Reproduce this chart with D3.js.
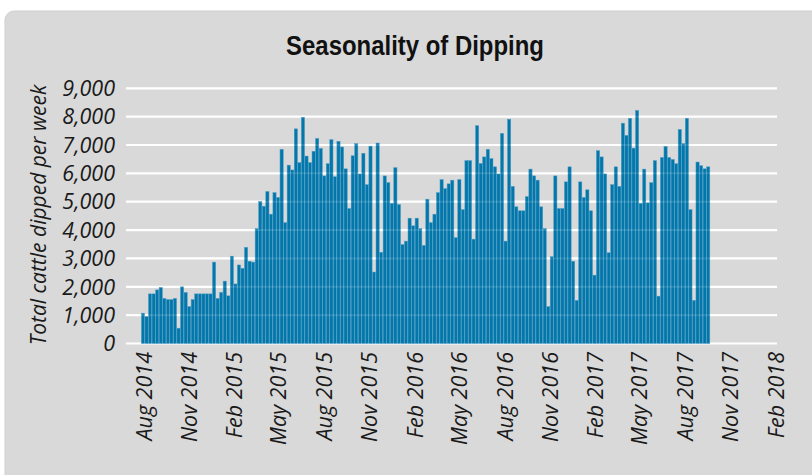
<!DOCTYPE html>
<html>
<head>
<meta charset="utf-8">
<script src="https://cdn.jsdelivr.net/npm/d3@7"></script>
<style>
  html, body { margin: 0; padding: 0; background: #ffffff; }
  svg { display: block; }
</style>
</head>
<body>
<svg id="chart" width="812" height="475"></svg>
<script>
// ---- data ----
const titleText = "Seasonality of Dipping";
const yLabel = "Total cattle dipped per week";
// weekly totals, one per recorded week (Aug 2014 - Sep 2017)
const cattleDipped = [
  1070, 950, 1750, 1750, 1890, 1980, 1590, 1550, 1550, 1590,
  540, 2000, 1800, 1300, 1550, 1750, 1750, 1750, 1750, 1750,
  2870, 1590, 1800, 2200, 1680, 3080, 2100, 2770, 2650,
  3390, 2900, 2870, 4050, 5010, 4840, 5360, 4560, 5320, 5150,
  6850, 4260, 6290, 6120, 7570, 6380, 7980, 6610, 6380, 6780,
  7230, 6880, 5910, 6340, 7190, 5880, 7130, 6930, 6160, 4760,
  6620, 7050, 5980, 6710, 5600, 6960, 2520, 7070, 3215, 5910,
  5670, 4940, 6200, 4900, 3490, 3610, 4420, 4150, 4420, 4050,
  3460, 5090, 4260, 4560, 5320, 5780, 5460, 5630, 5760,
  3730, 5780, 4720, 6450, 6450, 3680, 7680, 6350, 6580, 6850,
  6520, 6230, 5980, 7410, 3610, 7910, 5540, 4820, 4680, 4680,
  5180, 6150, 5910, 5760, 4820, 4050, 1300, 3060, 5910, 4760,
  4760, 5700, 6230, 2900, 1520, 5700, 5150, 5420, 4680,
  2410, 6800, 6580, 5980, 3200, 5600, 6230, 5540, 7770,
  7340, 7940, 6890, 8220, 4940, 6150, 4960, 5670, 6450, 1670,
  6560, 6950, 6560, 6490, 6340, 7550, 7050, 7940, 4720, 1520,
  6400, 6270, 6160, 6230
];
const weekNumbers = cattleDipped.map((_, i) => i + 1);
const xTickDates = [
  "2014-08-01", "2014-11-01", "2015-02-01", "2015-05-01", "2015-08-01",
  "2015-11-01", "2016-02-01", "2016-05-01", "2016-08-01", "2016-11-01",
  "2017-02-01", "2017-05-01", "2017-08-01", "2017-11-01", "2018-02-01"
];
const yTickValues = [0, 1000, 2000, 3000, 4000, 5000, 6000, 7000, 8000, 9000];
const xDomain = ["2014-06-26", "2018-02-03"];
const yDomain = [0, 9000];

// ---- drawing ----
const parse = d3.utcParse("%Y-%m-%d");
const svg = d3.select("#chart");
const x = d3.scaleUtc().domain(xDomain.map(parse)).range([126, 777]);
const xb = d3.scaleBand().domain(weekNumbers).range([141.2, 710]).paddingInner(0.1).paddingOuter(0.05);
const y = d3.scaleLinear().domain(yDomain).range([343.5, 88.3]);

// panel background
svg.append("rect")
  .attr("x", 5).attr("y", 11).attr("width", 840).attr("height", 500)
  .attr("rx", 9).attr("fill", "#d9d9d9").attr("stroke", "#cfcfcf").attr("stroke-width", 1);

// title
svg.append("text")
  .attr("transform", "translate(415,55) scale(0.84,1)")
  .attr("text-anchor", "middle")
  .attr("font-family", "'Liberation Sans', Arial, sans-serif")
  .attr("font-weight", "bold")
  .attr("font-size", 28.5)
  .attr("fill", "#111")
  .text(titleText);

// gridlines (under bars)
svg.append("g").selectAll("line").data(yTickValues).join("line")
  .attr("x1", 126).attr("x2", 777)
  .attr("y1", d => y(d)).attr("y2", d => y(d))
  .attr("stroke", "#ffffff").attr("stroke-width", 2.2);

// bars
svg.append("g").selectAll("rect")
  .data(weekNumbers)
  .join("rect")
  .attr("x", d => xb(d))
  .attr("width", xb.bandwidth())
  .attr("y", d => y(cattleDipped[d - 1]))
  .attr("height", d => y(0) - y(cattleDipped[d - 1]))
  .attr("fill", "#0377aa")
  .attr("stroke", "#4c9cc6")
  .attr("stroke-width", 0.5);

// faint gridlines over bars
svg.append("g").selectAll("line").data(yTickValues.filter(d => d > 0)).join("line")
  .attr("x1", 126).attr("x2", 777)
  .attr("y1", d => y(d)).attr("y2", d => y(d))
  .attr("stroke", "#ffffff").attr("stroke-opacity", 0.12).attr("stroke-width", 2);

// y tick labels
const fmt = d3.format(",");
svg.append("g").selectAll("text").data(yTickValues).join("text")
  .attr("x", 115).attr("y", d => y(d))
  .attr("dy", "0.36em")
  .attr("text-anchor", "end")
  .attr("font-family", "'Open Sans', sans-serif")
  .attr("font-style", "italic")
  .attr("font-size", 21.5)
  .attr("fill", "#1a1a1a")
  .text(d => fmt(d));

// x tick labels
const xfmt = d3.utcFormat("%b %Y");
svg.append("g").selectAll("text").data(xTickDates.map(parse)).join("text")
  .attr("transform", d => `translate(${x(d)},352) rotate(-90)`)
  .attr("dy", "0.36em")
  .attr("text-anchor", "end")
  .attr("font-family", "'Open Sans', sans-serif")
  .attr("font-style", "italic")
  .attr("font-size", 21.5)
  .attr("fill", "#1a1a1a")
  .text(d => xfmt(d));

// y axis label
svg.append("text")
  .attr("transform", "translate(38,215) rotate(-90)")
  .attr("dy", "0.36em")
  .attr("text-anchor", "middle")
  .attr("font-family", "'Open Sans', sans-serif")
  .attr("font-style", "italic")
  .attr("font-size", 21)
  .attr("fill", "#1a1a1a")
  .text(yLabel);
</script>
</body>
</html>
